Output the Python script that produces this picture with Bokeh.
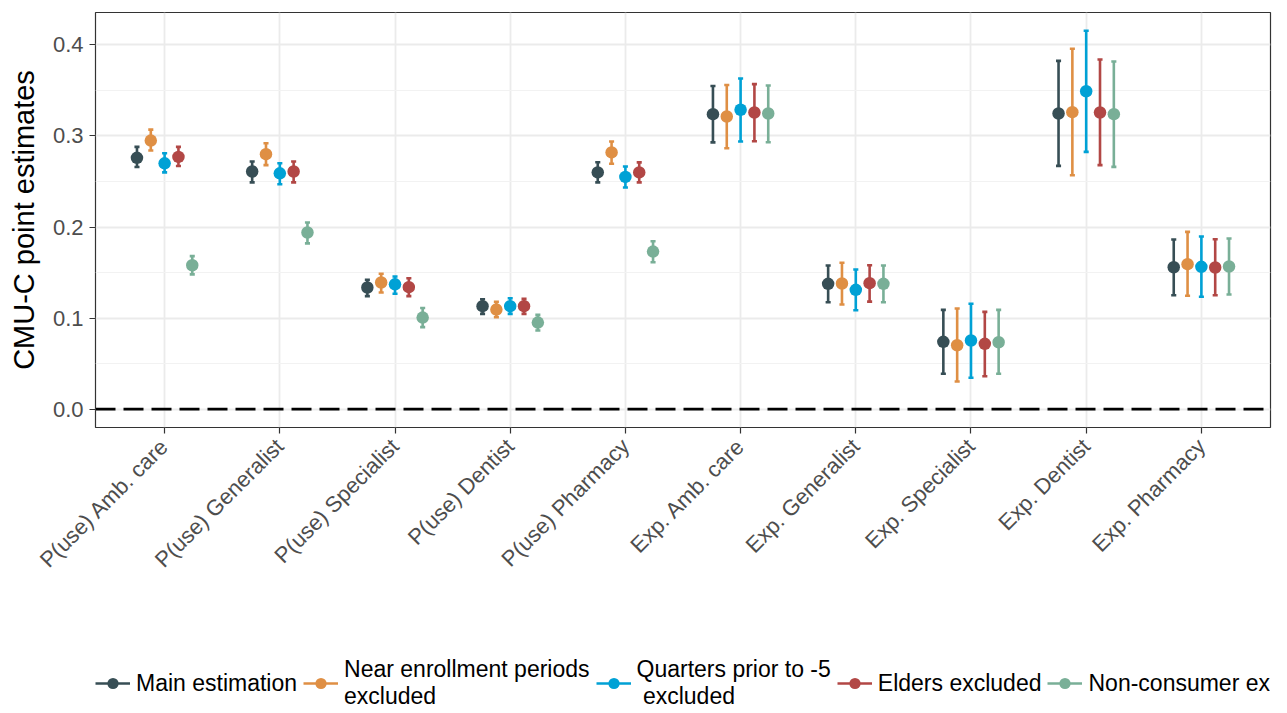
import math
from bokeh.plotting import figure
from bokeh.layouts import column
from bokeh.models import (ColumnDataSource, Range1d, FixedTicker, Span, Legend, LegendItem)
from bokeh.embed import file_html
from bokeh.resources import INLINE

categories = ["P(use) Amb. care", "P(use) Generalist", "P(use) Specialist", "P(use) Dentist",
              "P(use) Pharmacy", "Exp. Amb. care", "Exp. Generalist", "Exp. Specialist",
              "Exp. Dentist", "Exp. Pharmacy"]

series_names = ["Main estimation", "Near enrollment periods\nexcluded",
                "Quarters prior to -5\n excluded", "Elders excluded", "Non-consumer excluded"]
series_colors = ["#374E55", "#DF8F44", "#00A1D5", "#B24745", "#79AF97"]

main_est = [0.276, 0.261, 0.1335, 0.113, 0.260, 0.324, 0.1376, 0.0738, 0.3247, 0.1558]
main_lo = [0.266, 0.249, 0.124, 0.1046, 0.249, 0.293, 0.1174, 0.0387, 0.2672, 0.125]
main_hi = [0.288, 0.272, 0.142, 0.1207, 0.2712, 0.355, 0.1577, 0.109, 0.3826, 0.1863]

near_est = [0.295, 0.280, 0.139, 0.1093, 0.282, 0.3214, 0.1379, 0.0701, 0.3262, 0.1592]
near_lo = [0.284, 0.268, 0.128, 0.1009, 0.2695, 0.2866, 0.1148, 0.0302, 0.2569, 0.1244]
near_hi = [0.307, 0.292, 0.1486, 0.1178, 0.294, 0.356, 0.1607, 0.1104, 0.3958, 0.1947]

quarters_est = [0.270, 0.259, 0.137, 0.113, 0.255, 0.3288, 0.131, 0.0753, 0.3492, 0.1562]
quarters_lo = [0.260, 0.247, 0.1266, 0.1045, 0.2434, 0.294, 0.1086, 0.0343, 0.2826, 0.1233]
quarters_hi = [0.281, 0.270, 0.1456, 0.1218, 0.2665, 0.3632, 0.1533, 0.1156, 0.4156, 0.1896]

elders_est = [0.277, 0.261, 0.1339, 0.113, 0.260, 0.3258, 0.1383, 0.0716, 0.3258, 0.1555]
elders_lo = [0.267, 0.249, 0.124, 0.1046, 0.249, 0.2943, 0.118, 0.036, 0.268, 0.125]
elders_hi = [0.288, 0.272, 0.1437, 0.121, 0.271, 0.357, 0.158, 0.1068, 0.384, 0.1866]

noncons_est = [0.158, 0.194, 0.1005, 0.095, 0.173, 0.3247, 0.1376, 0.0734, 0.324, 0.1566]
noncons_lo = [0.148, 0.182, 0.090, 0.0863, 0.1613, 0.2932, 0.1174, 0.0387, 0.2661, 0.1258]
noncons_hi = [0.168, 0.205, 0.111, 0.1035, 0.1844, 0.3555, 0.1577, 0.109, 0.3819, 0.1874]

y_ticks = [0.0, 0.1, 0.2, 0.3, 0.4]
y_minor = [0.05, 0.15, 0.25, 0.35]

est = [main_est, near_est, quarters_est, elders_est, noncons_est]
lo = [main_lo, near_lo, quarters_lo, elders_lo, noncons_lo]
hi = [main_hi, near_hi, quarters_hi, elders_hi, noncons_hi]

FONT = "Liberation Sans"
dodge_step = 0.12
cap_half = 0.022
LW = 2.6

p = figure(frame_width=1175, frame_height=415, min_border_left=95, min_border_right=9,
           min_border_top=12, min_border_bottom=166, output_backend="svg",
           toolbar_location=None, x_range=Range1d(0.4, 10.6),
           y_range=Range1d(-0.0203, 0.4357))
p.background_fill_color = "white"
p.border_fill_color = "white"
p.outline_line_color = "#333333"
p.outline_line_width = 1.2

# legend panel: a separate figure below the plot whose ranges show none of the data,
# so that only the legend keys (drawn from the same series renderers' styles) appear
pl = figure(width=1279, height=112, min_border=0, output_backend="svg",
            toolbar_location=None, x_axis_type=None, y_axis_type=None,
            x_range=Range1d(-20, -19), y_range=Range1d(-20, -19))
pl.grid.visible = False
pl.outline_line_color = None
pl.background_fill_color = "white"
pl.border_fill_color = "white"

legend_items = []
for k in range(5):
    xs = [i + 1 + (k - 2) * dodge_step for i in range(len(categories))]
    src = ColumnDataSource(dict(x=xs, y=est[k], lo=lo[k], hi=hi[k],
                                xl=[x - cap_half for x in xs], xr=[x + cap_half for x in xs]))
    p.segment(x0="x", y0="lo", x1="x", y1="hi", source=src,
              line_color=series_colors[k], line_width=LW)
    p.segment(x0="xl", y0="lo", x1="xr", y1="lo", source=src,
              line_color=series_colors[k], line_width=LW)
    p.segment(x0="xl", y0="hi", x1="xr", y1="hi", source=src,
              line_color=series_colors[k], line_width=LW)
    p.scatter(x="x", y="y", source=src, size=12.5, fill_color=series_colors[k],
              line_color=series_colors[k], line_width=0)
    ln = pl.segment(x0="x", y0="lo", x1="x", y1="hi", source=src,
                    line_color=series_colors[k], line_width=LW)
    sc = pl.scatter(x="x", y="y", source=src, size=12.5, fill_color=series_colors[k],
                    line_color=series_colors[k], line_width=0)
    legend_items.append(LegendItem(label=series_names[k], renderers=[ln, sc]))

p.add_layout(Span(location=0, dimension="width", line_color="black",
                  line_width=2.7, line_dash="20 8"))

# axes
p.xaxis.ticker = FixedTicker(ticks=list(range(1, len(categories) + 1)))
p.xaxis.major_label_overrides = {i + 1: c for i, c in enumerate(categories)}
p.xaxis.major_label_orientation = math.pi / 4
p.yaxis.ticker = FixedTicker(ticks=y_ticks, minor_ticks=y_minor)
p.yaxis.major_label_overrides = {t: "%.1f" % t for t in y_ticks}
for ax in (p.xaxis, p.yaxis):
    ax.axis_line_color = None
    ax.major_tick_line_color = "#333333"
    ax.major_tick_line_width = 1.2
    ax.major_tick_out = 6
    ax.major_tick_in = 0
    ax.minor_tick_line_color = None
    ax.major_label_text_font = FONT
    ax.major_label_text_font_size = "22px"
    ax.major_label_text_color = "#4D4D4D"
    ax.major_label_standoff = 6
p.xaxis.major_label_standoff = 9
p.yaxis.axis_label = "CMU-C point estimates"
p.yaxis.axis_label_text_font = FONT
p.yaxis.axis_label_text_font_size = "29px"
p.yaxis.axis_label_text_font_style = "normal"
p.yaxis.axis_label_text_color = "black"
p.yaxis.axis_label_standoff = 10

p.xgrid.grid_line_color = "#EBEBEB"
p.xgrid.grid_line_width = 1.8
p.ygrid.grid_line_color = "#EBEBEB"
p.ygrid.grid_line_width = 1.8
p.ygrid.minor_grid_line_color = "#F2F2F2"
p.ygrid.minor_grid_line_width = 1.0

legend = Legend(items=legend_items, orientation="horizontal", location=(0, -5),
                glyph_width=35, glyph_height=28, label_standoff=6, spacing=6,
                padding=0, margin=0, border_line_color=None, background_fill_alpha=0,
                label_text_font=FONT, label_text_font_size="23px",
                label_text_color="black")
pl.add_layout(legend, "center")

layout = column(p, pl, spacing=0)
open("out.html", "w").write(file_html(layout, INLINE))
